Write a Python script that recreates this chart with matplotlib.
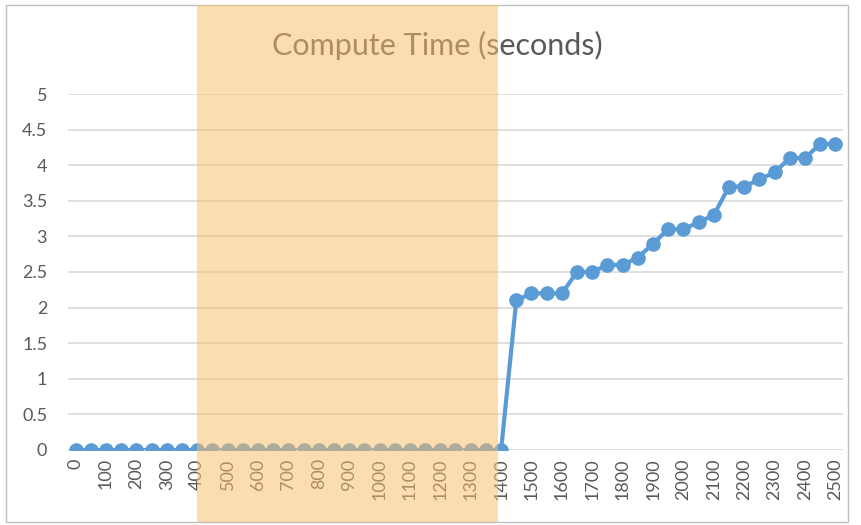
import matplotlib.pyplot as plt
from matplotlib.patches import Rectangle
import numpy as np

plt.rcParams['font.family'] = ['Lato', 'DejaVu Sans']

# === Data ===
sizes = list(range(0, 2550, 50))
compute_time = [0] * 29 + [
    2.1, 2.2, 2.2, 2.2, 2.5, 2.5, 2.6, 2.6, 2.7, 2.9, 3.1,
    3.1, 3.2, 3.3, 3.7, 3.7, 3.8, 3.9, 4.1, 4.1, 4.3, 4.3,
]
y_ticks = [0, 0.5, 1, 1.5, 2, 2.5, 3, 3.5, 4, 4.5, 5]
shade_from, shade_to = 400, 1390   # highlighted size range

blue = '#5B9BD5'
grey_text = '#595959'

# === Plot ===
fig = plt.figure(figsize=(8.62, 5.25), dpi=100)
ax = fig.add_axes([68 / 862, 75 / 525, 775 / 862, 356 / 525])

idx = np.arange(len(sizes))
ax.plot(idx, compute_time, color=blue, lw=3, marker='o', ms=9.5, zorder=3)

ax.set_xlim(-0.5, len(sizes) - 0.5)
ax.set_ylim(0, 5)
ax.set_yticks(y_ticks)
ax.set_yticklabels([f'{v:g}' for v in y_ticks])
ax.set_xticks(idx[::2])
ax.set_xticklabels([str(s) for s in sizes[::2]], rotation=90)
ax.tick_params(length=0, colors=grey_text, labelsize=13)
ax.tick_params(axis='y', pad=15)
ax.tick_params(axis='x', pad=6)
ax.grid(axis='y', color='#d9d9d9', lw=1.2)
ax.set_axisbelow(True)
for s in ax.spines.values():
    s.set_visible(False)

fig.text(437 / 862, 1 - 45 / 525, 'Compute Time (seconds)', ha='center', va='center',
         fontsize=22, color=grey_text)

# chart border
fig.patches.append(Rectangle((6 / 862, 3 / 525), 842 / 862, 517 / 525, transform=fig.transFigure,
                             fill=False, ec='#bfbfbf', lw=1))

# highlighted region drawn over the chart
x0 = ax.transData.transform((np.interp(shade_from, sizes, idx), 0))[0]
x1 = ax.transData.transform((np.interp(shade_to, sizes, idx), 0))[0]
fw = fig.bbox.width
fig.patches.append(Rectangle((x0 / fw, 3 / 525), (x1 - x0) / fw, 517 / 525,
                             transform=fig.transFigure, color='#FBBD6B', alpha=0.52,
                             lw=0, zorder=10))

fig.savefig('out.png', dpi=100)
